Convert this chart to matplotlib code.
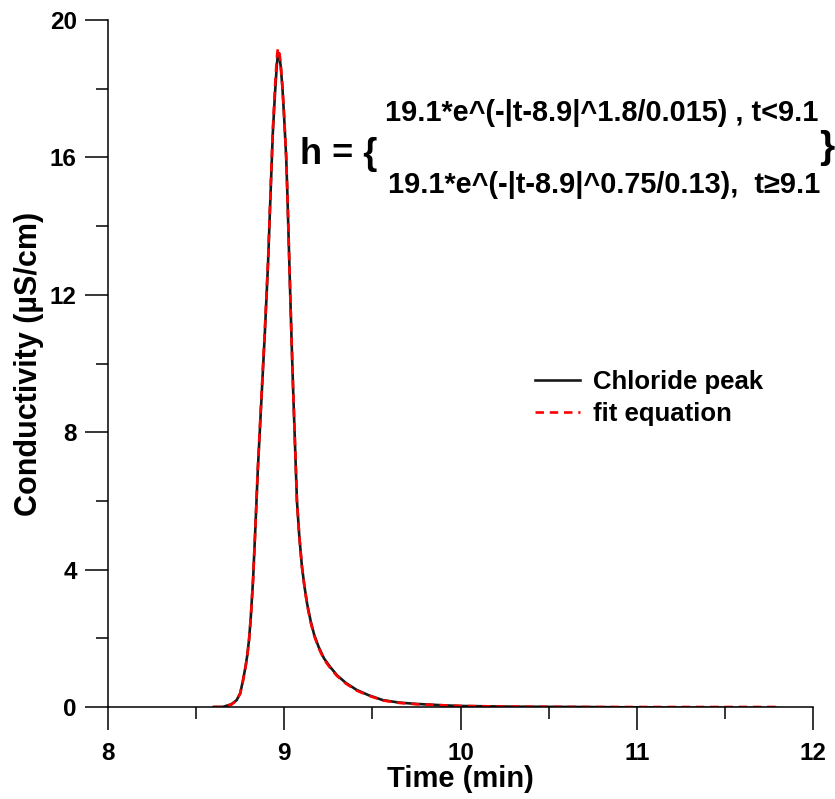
import numpy as np
import matplotlib
matplotlib.use("Agg")
import matplotlib.pyplot as plt
from matplotlib.ticker import MultipleLocator

plt.rcParams['font.family'] = ['Liberation Sans', 'DejaVu Sans']
plt.rcParams['font.weight'] = 'bold'

# values
time_min = [8.60, 8.65, 8.70, 8.73, 8.75, 8.765, 8.78, 8.79, 8.80, 8.81,
            8.823, 8.836, 8.85, 8.87, 8.89, 8.908, 8.922, 8.935, 8.948, 8.958,
            8.962, 8.966, 8.970, 8.975, 8.98, 8.99, 9.0, 9.011, 9.018, 9.024,
            9.034, 9.042, 9.05, 9.06, 9.072, 9.085, 9.10, 9.115, 9.13, 9.15,
            9.17, 9.195, 9.225, 9.26, 9.30, 9.35, 9.41, 9.48, 9.56, 9.65,
            9.75, 9.90, 10.0, 10.3, 10.7, 11.2, 11.8]
chloride = [0.0, 0.0, 0.08, 0.2, 0.4, 0.75, 1.17, 1.5, 1.95, 2.6,
            3.7, 5.2, 6.9, 8.9, 10.9, 12.9, 14.9, 16.7, 17.9, 18.7,
            18.9, 19.05, 19.02, 18.85, 18.65, 18.0, 17.1, 16.0, 14.9, 13.8,
            12.0, 10.6, 9.3, 7.8, 6.0, 5.0, 4.1, 3.5, 3.0, 2.5,
            2.1, 1.75, 1.42, 1.17, 0.92, 0.7, 0.5, 0.34, 0.20, 0.13,
            0.09, 0.05, 0.03, 0.01, 0.0, -0.02, -0.03]
fit = [0.0, 0.0, 0.07, 0.19, 0.39, 0.74, 1.15, 1.48, 1.93, 2.58,
       3.7, 5.2, 6.95, 9.0, 11.0, 13.0, 15.0, 16.8, 18.1, 18.9,
       19.1, 19.18, 19.12, 18.95, 18.7, 18.05, 17.15, 16.0, 14.9, 13.8,
       12.0, 10.6, 9.3, 7.8, 6.0, 5.0, 4.1, 3.48, 2.97, 2.46,
       2.07, 1.72, 1.39, 1.14, 0.9, 0.68, 0.48, 0.33, 0.19, 0.12,
       0.08, 0.05, 0.03, 0.01, 0.0, 0.0, 0.0]

x_ticks = [8, 9, 10, 11, 12]
y_ticks = [0, 4, 8, 12, 16, 20]

fig = plt.figure(figsize=(8.35, 7.99), dpi=100)
ax = fig.add_axes([108 / 835, 1 - 707 / 799, (813 - 108) / 835, (707 - 20) / 799])

ax.plot(time_min, chloride, color='#1a1a1a', linewidth=1.9, label='Chloride peak')
ax.plot(time_min, fit, color='red', linewidth=1.9, linestyle=(0, (3.2, 2.2)), label='fit equation')

ax.set_xlim(8, 12)
ax.set_ylim(0, 20)
ax.set_xticks(x_ticks)
ax.set_yticks(y_ticks)
ax.xaxis.set_minor_locator(MultipleLocator(0.5))
ax.yaxis.set_minor_locator(MultipleLocator(2))

for s in ['top', 'right']:
    ax.spines[s].set_visible(False)
for s in ['left', 'bottom']:
    ax.spines[s].set_linewidth(1.1)

ax.tick_params(which='major', length=16.5, width=1.1, labelsize=17.5, pad=6)
ax.tick_params(which='minor', length=8.5, width=1.1)
ax.tick_params(axis='x', which='major', pad=9)

ax.set_xlabel("Time (min)", fontsize=21, fontweight='bold', labelpad=0)
ax.set_ylabel("Conductivity (µS/cm)", fontsize=22, fontweight='bold', labelpad=4)

ax.legend(loc='center left', bbox_to_anchor=(535 / 835, 1 - 398 / 799),
          bbox_transform=fig.transFigure, frameon=False, fontsize=18.5,
          handlelength=1.75, handletextpad=0.5, labelspacing=0.3,
          borderpad=0, borderaxespad=0)

fig.text(300 / 835, 1 - 155 / 799, "h = {", fontsize=26, fontweight='bold',
         ha='left', va='center')
fig.text(385 / 835, 1 - 113 / 799, "19.1*e^(-|t-8.9|^1.8/0.015) , t<9.1",
         fontsize=20.8, fontweight='bold', ha='left', va='center')
fig.text(388 / 835, 1 - 185 / 799, "19.1*e^(-|t-8.9|^0.75/0.13),  t≥9.1",
         fontsize=20.8, fontweight='bold', ha='left', va='center')
fig.text(819 / 835, 1 - 148 / 799, "}", fontsize=28, fontweight='bold',
         ha='left', va='center')

fig.savefig("out.png", dpi=100)
plt.close(fig)
